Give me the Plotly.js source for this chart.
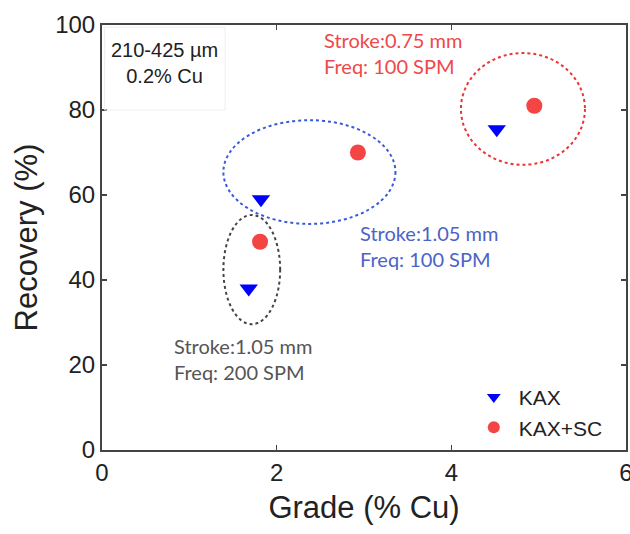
<!DOCTYPE html>
<html><head><meta charset="utf-8">
<script src="https://cdn.plot.ly/plotly-3.0.1.min.js"></script>
<style>body{margin:0;background:#fff}#c{width:630px;height:534px}</style>
</head><body><div id="c"></div>
<script>
// Data
var seriesNames = ["KAX", "KAX+SC"];
var kaxGrade = [1.68, 1.82, 4.52];
var kaxRecovery = [38, 59, 75.5];
var scGrade = [1.81, 2.93, 4.95];
var scRecovery = [49, 70, 81];
// Ellipse groups: [x0, x1, y0, y1]
var groupLabels = ["Stroke:1.05 mm<br>Freq: 200 SPM", "Stroke:1.05 mm<br>Freq: 100 SPM", "Stroke:0.75 mm<br>Freq: 100 SPM"];
var groupX0 = [1.39, 1.39, 4.11];
var groupX1 = [2.04, 3.36, 5.53];
var groupY0 = [29.6, 53.2, 67.1];
var groupY1 = [55.3, 77.6, 93.4];
var groupColors = ["#444444", "#3a5bd9", "#ee3333"];
var labelX = [0.80, 2.93, 2.52];
var labelY = [21.3, 48, 93.3];
var labelColors = ["#555555", "#4b63c8", "#f04848"];
var infoText = "210-425 µm<br>0.2% Cu";

var traces = [
  {x: kaxGrade, y: kaxRecovery, mode: "markers", type: "scatter", name: seriesNames[0],
   marker: {symbol: "triangle-down", size: 16, color: "#0000ff"}},
  {x: scGrade, y: scRecovery, mode: "markers", type: "scatter", name: seriesNames[1],
   marker: {symbol: "circle", size: 16, color: "#f44444"}}
];

var shapes = [];
for (var i = 0; i < groupX0.length; i++) {
  shapes.push({type: "circle", xref: "x", yref: "y", x0: groupX0[i], x1: groupX1[i], y0: groupY0[i], y1: groupY1[i],
    line: {color: groupColors[i], width: 2, dash: "dot"}});
}
shapes.push({type: "rect", xref: "paper", yref: "paper", x0: 0.005, x1: 0.235, y0: 0.8, y1: 0.995,
  line: {color: "#eeeeee", width: 1}});

var annotations = [];
for (var j = 0; j < groupLabels.length; j++) {
  annotations.push({x: labelX[j], y: labelY[j], xref: "x", yref: "y", text: groupLabels[j], showarrow: false,
    xanchor: "left", yanchor: "middle", align: "left",
    font: {family: "Lato, sans-serif", size: 20, color: labelColors[j]}});
}
annotations.push({x: 0.12, y: 0.91, xref: "paper", yref: "paper", text: infoText, showarrow: false,
  xanchor: "center", yanchor: "middle", align: "center",
  font: {family: "Liberation Sans, Arial, sans-serif", size: 20, color: "#222"}});

var F = "Liberation Sans, Arial, sans-serif";
var layout = {
  width: 630, height: 534,
  margin: {l: 102, r: 4, t: 25, b: 84},
  paper_bgcolor: "#fff", plot_bgcolor: "#fff",
  showlegend: true,
  legend: {x: 0.70, y: 0.172, xanchor: "left", yanchor: "top", bgcolor: "rgba(0,0,0,0)", itemwidth: 40,
    font: {family: F, size: 21, color: "#222"}, tracegroupgap: 0, itemsizing: "constant"},
  xaxis: {range: [0, 6], tickvals: [0, 2, 4, 6], ticks: "inside", ticklen: 5, tickwidth: 1.5, tickcolor: "#444",
    showline: true, linecolor: "#444", linewidth: 2, mirror: "ticks", showgrid: false, zeroline: false,
    ticklabeloverflow: "allow",
    tickfont: {family: F, size: 24, color: "#222"},
    title: {text: "Grade (% Cu)", font: {family: F, size: 31, color: "#222"}, standoff: 12}},
  yaxis: {range: [0, 100], tickvals: [0, 20, 40, 60, 80, 100], ticks: "inside", ticklen: 5, tickwidth: 1.5, tickcolor: "#444",
    showline: true, linecolor: "#444", linewidth: 2, mirror: "ticks", showgrid: false, zeroline: false,
    ticklabeloverflow: "allow",
    tickfont: {family: F, size: 24, color: "#222"},
    title: {text: "Recovery (%)", font: {family: F, size: 31, color: "#222"}, standoff: 8}},
  shapes: shapes,
  annotations: annotations
};
Plotly.newPlot("c", traces, layout, {displayModeBar: false, staticPlot: true});
</script></body></html>
